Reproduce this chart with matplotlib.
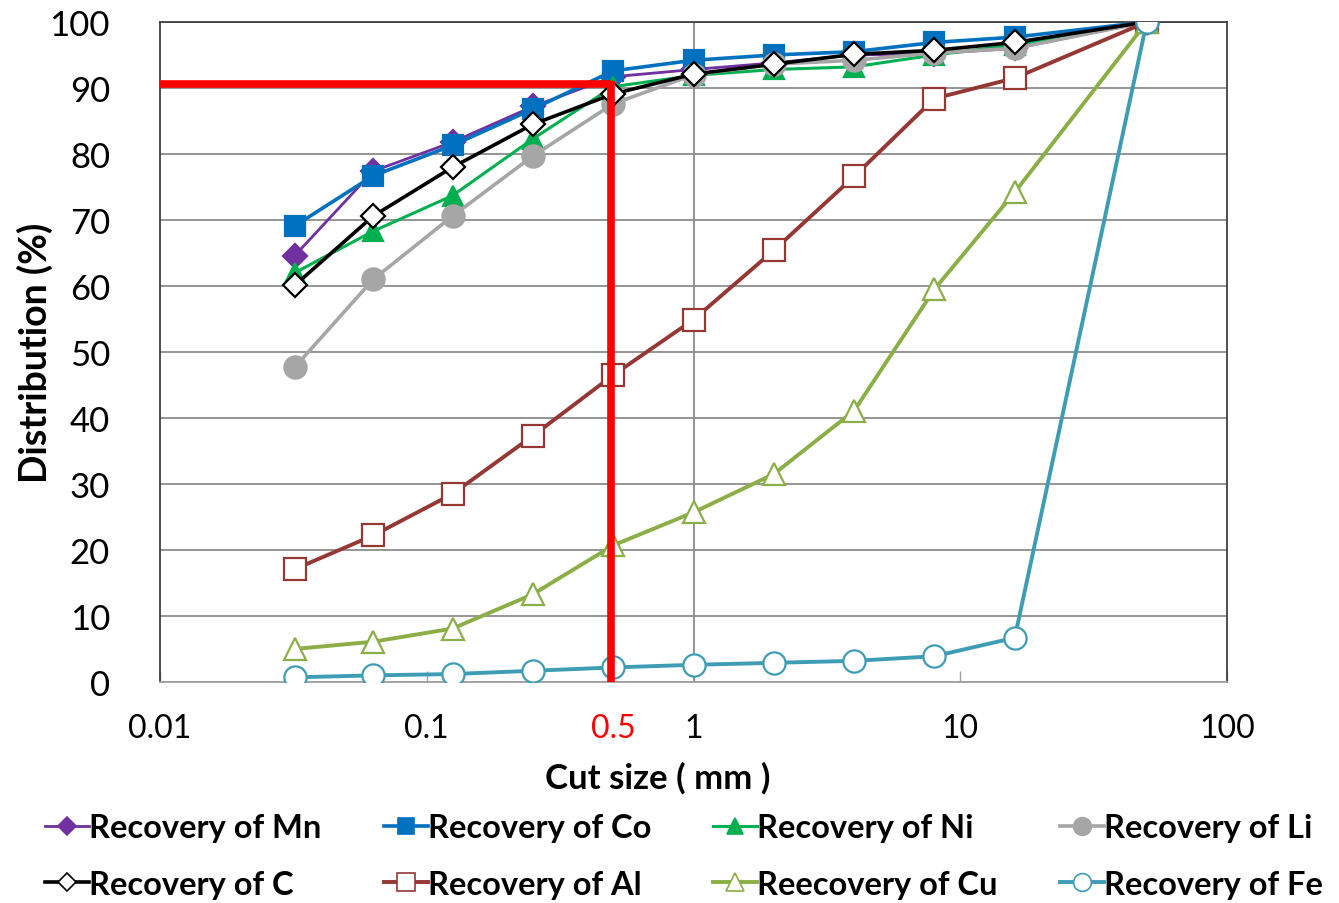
import matplotlib
matplotlib.use("Agg")
import numpy as np
from matplotlib import pyplot as plt
from matplotlib.lines import Line2D

# cut sizes (mm)
cut_size = [0.032, 0.063, 0.125, 0.25, 0.5, 1, 2, 4, 8, 16, 50]

# cumulative recovery (%)
mn = [64.6, 77.4, 81.8, 87.2, 91.7, 92.8, 93.8, 95.0, 95.2, 96.0, 100]
co = [69.1, 76.7, 81.3, 86.8, 92.6, 94.2, 95.0, 95.5, 96.9, 97.7, 100]
ni = [62.0, 68.3, 73.7, 82.3, 90.2, 91.9, 92.8, 93.2, 95.0, 96.5, 100]
li = [47.7, 61.0, 70.6, 79.7, 87.6, 92.0, 93.6, 94.2, 95.3, 96.0, 100]
c = [60.1, 70.6, 78.0, 84.5, 89.1, 92.1, 93.6, 95.1, 95.7, 96.9, 100]
al = [17.1, 22.2, 28.5, 37.3, 46.5, 54.9, 65.4, 76.6, 88.4, 91.5, 100]
cu = [5.0, 6.1, 8.1, 13.3, 20.7, 25.7, 31.5, 41.1, 59.5, 74.2, 100]
fe = [0.7, 1.0, 1.2, 1.7, 2.2, 2.6, 2.9, 3.2, 3.9, 6.7, 100]

labels = ["Recovery of Mn", "Recovery of Co", "Recovery of Ni", "Recovery of Li",
          "Recovery of C", "Recovery of Al", "Reecovery of Cu", "Recovery of Fe"]

# chosen cut point (red guide lines)
cut_x = 0.49
cut_y = 90.6

x_ticks = [0.01, 0.1, 0.5, 1, 10, 100]
x_ticklabels = ["0.01", "0.1", "0.5", "1", "10", "100"]
y_ticks = [0, 10, 20, 30, 40, 50, 60, 70, 80, 90, 100]

plt.rcParams['font.family'] = ['Lato', 'DejaVu Sans']

fig = plt.figure(figsize=(13.39, 9.04), dpi=100)
ax = fig.add_axes([0.1195, 0.2445, 0.7969, 0.7301])

# series styles: (data, colour, marker, face, size, lw)
styles = [
    (mn, "#7030A0", "D", "#7030A0", 12, 2.0),
    (co, "#0070C0", "s", "#0070C0", 15, 2.6),
    (ni, "#00B050", "^", "#00B050", 15, 2.2),
    (li, "#A6A6A6", "o", "#A6A6A6", 16, 2.6),
    (c, "#000000", "D", "white", 12, 2.6),
    (al, "#953735", "s", "white", 16, 2.8),
    (cu, "#8BAE47", "^", "white", 16, 2.8),
    (fe, "#3F9CB5", "o", "white", 16, 2.8),
]

handles = []
for (y, col, mk, face, ms, lw), lab in zip(styles, labels):
    ax.plot(cut_size, y, color=col, lw=lw, marker=mk, ms=ms,
            markerfacecolor=face, markeredgecolor=col, markeredgewidth=1.6,
            zorder=3)
    handles.append(Line2D([], [], color=col, lw=lw, marker=mk, ms=ms * 0.8,
                          markerfacecolor=face, markeredgecolor=col,
                          markeredgewidth=1.2))

# red guide lines
ax.plot([0.01, cut_x], [cut_y, cut_y], color="#FF0000", lw=5.5,
        solid_capstyle="butt", zorder=4)
ax.plot([cut_x, cut_x], [0, cut_y + 0.5], color="#FF0000", lw=5.5,
        solid_capstyle="butt", zorder=4)

ax.set_xscale("log")
ax.set_xlim(0.01, 100)
ax.set_ylim(0, 100)
ax.set_xticks(x_ticks)
ax.set_xticklabels(x_ticklabels)
ax.xaxis.set_minor_locator(matplotlib.ticker.NullLocator())
ax.set_yticks(y_ticks)

for lbl in ax.get_xticklabels():
    if lbl.get_text() == "0.5":
        lbl.set_color("#FF0000")

ax.tick_params(axis="x", direction="in", length=8, width=1, color="#A0A0A0",
               labelsize=23, pad=22)
ax.tick_params(axis="y", length=0, labelsize=25, pad=36)

ax.grid(axis="y", color="#8C8C8C", lw=1.3)
ax.axvline(1, color="#8C8C8C", lw=1.3, zorder=1)
ax.set_axisbelow(True)

for s in ["top", "left", "right"]:
    ax.spines[s].set_color("#404040")
    ax.spines[s].set_linewidth(1.3)
ax.spines["bottom"].set_color("#A0A0A0")
ax.spines["bottom"].set_linewidth(1.3)

ax.set_xlabel("Cut size ( mm )", fontsize=25, fontweight="bold")
ax.xaxis.set_label_coords(0.466, -0.12)
ax.set_ylabel("Distribution (%)", fontsize=27, fontweight="bold")
ax.yaxis.set_label_coords(-0.1, 0.5)

# legend filled row by row, 4 per row
order = [0, 4, 1, 5, 2, 6, 3, 7]
fig.legend([handles[i] for i in order], [labels[i] for i in order],
           loc="upper left", bbox_to_anchor=(0.024, 0.114),
           ncol=4, frameon=False, prop={"size": 23.5, "weight": "bold"},
           handlelength=1.35, handletextpad=0.0, columnspacing=1.9,
           labelspacing=0.85, borderaxespad=0)

fig.savefig("out.png", dpi=100)
